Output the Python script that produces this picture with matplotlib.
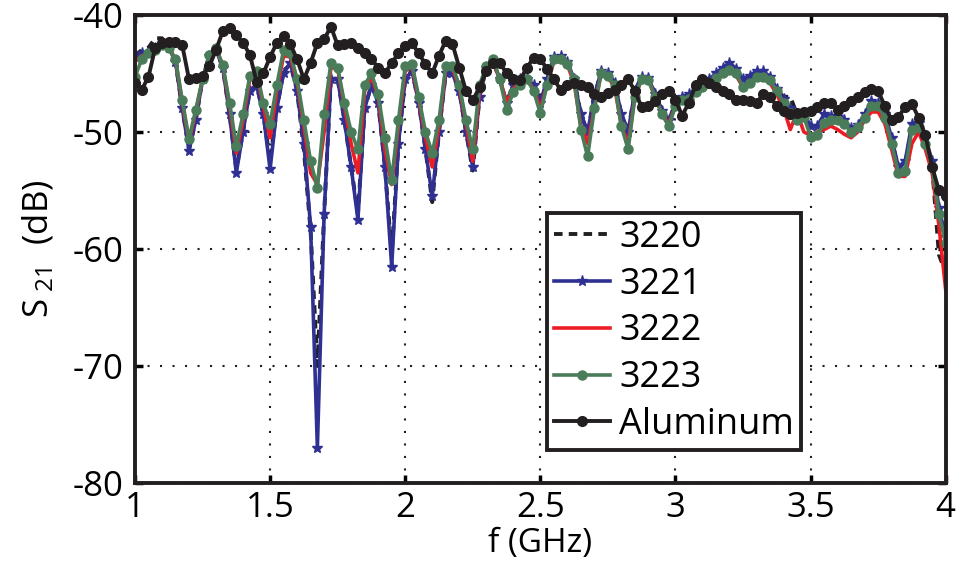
import numpy as np
import matplotlib
matplotlib.use('Agg')
import matplotlib.pyplot as plt

plt.rcParams['font.family'] = ['Open Sans', 'DejaVu Sans']
plt.rcParams['mathtext.fontset'] = 'custom'
plt.rcParams['mathtext.rm'] = 'Open Sans'
plt.rcParams['mathtext.it'] = 'Open Sans'
plt.rcParams['axes.unicode_minus'] = False

# frequency grid, 1 to 4 GHz (121 samples)
freq = np.linspace(1.0, 4.0, 121)

# S21 values (dB), one row = 0.25 GHz
s_3220 = [
    -43.5, -43.0, -42.8, -42.0, -42.0, -42.6, -44.0, -48.0, -51.5, -49.0,
    -45.5, -43.5, -43.0, -44.5, -48.5, -53.2, -50.0, -46.5, -46.0, -48.5,
    -52.5, -48.0, -44.8, -44.2, -46.5, -51.5, -58.5, -70.0, -57.0, -45.5,
    -45.5, -49.0, -53.0, -57.0, -48.0, -46.0, -47.5, -53.0, -60.5, -51.0,
    -45.5, -44.8, -47.5, -51.5, -56.0, -50.0, -45.0, -45.0, -46.5, -50.0,
    -53.3, -47.0, -44.5, -44.0, -45.5, -47.5, -46.0, -45.5, -45.5, -46.0,
    -47.5, -45.5, -43.8, -43.6, -44.0, -45.5, -48.5, -50.0, -47.0, -44.8,
    -45.0, -45.8, -48.5, -50.0, -46.5, -45.3, -45.4, -46.8, -48.2, -49.0,
    -47.6, -47.0, -46.8, -46.3, -46.0, -45.5, -45.0, -44.6, -44.3, -44.8,
    -45.6, -45.3, -45.0, -45.0, -45.4, -46.4, -47.0, -47.0, -48.5, -48.6,
    -49.6, -49.6, -48.6, -48.7, -48.8, -49.1, -49.8, -49.5, -48.6, -47.5,
    -47.6, -48.6, -50.7, -53.2, -52.8, -49.5, -49.4, -50.7, -53.0, -60.5,
    -62.0]

s_3221 = [
    -43.5, -43.3, -43.3, -42.8, -42.5, -42.8, -44.0, -48.0, -51.6, -49.0,
    -45.5, -43.5, -43.0, -44.5, -48.5, -53.5, -50.0, -46.5, -46.0, -48.5,
    -53.2, -48.0, -45.0, -44.1, -46.5, -51.0, -58.1, -77.0, -57.0, -45.5,
    -45.5, -49.0, -53.0, -57.5, -48.0, -46.0, -47.5, -53.0, -61.5, -51.0,
    -45.5, -44.8, -47.5, -51.5, -55.5, -50.0, -45.0, -45.0, -46.5, -50.0,
    -53.0, -47.0, -44.5, -44.0, -45.5, -47.5, -46.0, -45.5, -45.5, -46.0,
    -47.5, -45.5, -43.6, -43.5, -44.0, -45.5, -48.5, -50.0, -47.0, -44.8,
    -45.0, -45.8, -48.5, -50.0, -46.5, -45.3, -45.4, -46.8, -48.2, -49.0,
    -47.6, -47.0, -46.8, -46.3, -46.0, -45.5, -45.0, -44.5, -44.1, -44.6,
    -45.5, -45.2, -44.8, -44.8, -45.3, -46.3, -47.2, -48.0, -48.5, -48.4,
    -49.5, -49.5, -48.5, -48.6, -48.7, -49.0, -49.7, -49.4, -48.5, -47.4,
    -47.5, -48.5, -50.5, -53.0, -52.5, -49.3, -49.2, -50.5, -52.5, -56.5,
    -59.0]

s_3222 = [
    -44.0, -43.5, -43.3, -43.0, -42.6, -42.8, -43.8, -47.5, -50.8, -48.3,
    -45.5, -43.5, -42.9, -44.3, -47.8, -51.8, -49.0, -45.5, -45.0, -47.8,
    -50.5, -46.5, -43.5, -43.6, -45.8, -49.5, -53.5, -54.5, -50.0, -44.5,
    -44.6, -47.8, -51.0, -53.5, -46.5, -45.3, -47.0, -51.5, -54.5, -49.5,
    -44.8, -44.4, -47.2, -50.5, -53.0, -49.5, -44.6, -44.6, -46.2, -49.3,
    -52.5, -46.5, -44.5, -44.0, -45.5, -47.5, -46.3, -45.8, -45.6, -46.3,
    -48.0, -46.0, -44.0, -44.0, -44.3, -45.8, -49.5, -51.0, -48.0, -45.0,
    -45.3, -46.2, -49.5, -51.0, -47.0, -45.5, -45.6, -47.0, -48.5, -49.3,
    -47.8, -47.3, -47.2, -46.7, -46.3, -45.9, -45.5, -45.2, -44.9, -45.2,
    -46.2, -45.9, -45.5, -45.5, -45.8, -46.8, -48.0, -49.8, -48.3, -50.0,
    -50.3, -50.0, -49.8, -49.5, -49.8, -50.2, -50.5, -50.0, -49.0, -48.3,
    -48.3, -49.3, -51.5, -53.8, -53.8, -51.0, -50.0, -51.5, -53.5, -58.0,
    -63.5]

s_3223 = [
    -45.3, -43.8, -43.3, -43.0, -42.6, -42.8, -43.8, -47.3, -50.6, -48.1,
    -45.5, -43.4, -42.8, -44.3, -47.5, -51.2, -48.5, -45.2, -44.8, -47.5,
    -49.3, -46.0, -43.0, -43.3, -45.5, -49.0, -52.5, -54.8, -48.5, -44.1,
    -44.5, -47.5, -50.0, -51.5, -46.0, -45.0, -46.8, -50.5, -54.1, -49.0,
    -44.4, -44.2, -47.0, -50.0, -51.8, -49.0, -44.4, -44.4, -46.0, -49.0,
    -51.5, -46.0, -44.4, -43.8, -45.5, -48.1, -46.6, -46.0, -45.5, -46.5,
    -48.4, -46.0, -43.8, -43.8, -44.2, -45.5, -49.8, -52.1, -48.0, -45.0,
    -45.2, -46.0, -49.5, -51.5, -47.0, -45.5, -45.6, -47.0, -48.5, -49.5,
    -47.8, -47.3, -47.2, -46.6, -46.2, -45.8, -45.4, -45.0, -44.7, -45.0,
    -46.2, -45.8, -45.3, -45.3, -45.6, -46.5, -47.5, -48.4, -49.0, -48.7,
    -50.4, -50.3, -49.2, -49.0, -49.0, -49.3, -50.0, -49.6, -48.8, -47.8,
    -47.8, -48.8, -51.0, -53.5, -53.3, -49.8, -49.6, -51.0, -53.0, -57.0,
    -59.5]

s_aluminum = [
    -45.8, -46.4, -45.3, -42.8, -42.4, -42.3, -42.3, -42.6, -45.5, -45.4,
    -45.2, -44.4, -43.0, -41.4, -41.1, -41.7, -42.4, -43.4, -45.7, -45.0,
    -43.6, -42.4, -41.8, -42.5, -43.8, -45.5, -44.1, -42.4, -42.1, -41.0,
    -42.6, -42.5, -42.4, -42.8, -43.3, -43.8, -44.5, -45.0, -44.1, -43.3,
    -42.7, -42.4, -43.3, -44.2, -45.0, -43.5, -42.2, -42.5, -44.5, -46.5,
    -47.3, -46.2, -44.8, -44.1, -44.1, -45.0, -45.5, -45.6, -44.5, -43.7,
    -43.8, -44.6, -45.5, -46.4, -46.0, -45.8, -46.0, -46.2, -46.8, -47.0,
    -46.7, -46.4, -46.0, -45.5, -46.5, -47.9, -47.8, -47.4, -46.8, -46.5,
    -47.3, -48.6, -47.5, -46.0, -45.5, -45.8, -46.2, -46.5, -46.8, -47.3,
    -47.3, -47.4, -47.5, -46.8, -47.0, -47.8, -48.2, -48.5, -48.4, -48.3,
    -48.2, -47.9, -47.5, -47.5, -48.1, -47.8, -47.4, -47.0, -46.6, -46.3,
    -46.5, -47.8, -49.0, -48.7, -47.9, -47.6, -48.8, -50.3, -53.0, -55.0,
    -55.5]

fig = plt.figure(figsize=(9.64, 5.71), dpi=100)
ax = fig.add_axes([0.140, 0.154, 0.841, 0.820])

ax.plot(freq, s_3220, color='#231f20', linestyle='--', linewidth=2.8,
        dashes=(2.2, 1.6), label='3220')
ax.plot(freq, s_3221, color='#2e3192', linewidth=2.6, marker='*', markersize=8,
        label='3221')
ax.plot(freq, s_3222, color='#ed1c24', linewidth=2.6, label='3222')
ax.plot(freq, s_3223, color='#4a7c59', linewidth=2.6, marker='o', markersize=6.5,
        label='3223')
ax.plot(freq, s_aluminum, color='#231f20', linewidth=2.8, marker='o', markersize=7,
        label='Aluminum')

ax.set_xlim(1, 4)
ax.set_ylim(-80, -40)
ax.set_xticks([1, 1.5, 2, 2.5, 3, 3.5, 4])
ax.set_xticklabels(['1', '1.5', '2', '2.5', '3', '3.5', '4'])
ax.set_yticks([-80, -70, -60, -50, -40])
ax.grid(True, linestyle=(0, (1, 5)), color='#231f20', linewidth=1.5)
ax.tick_params(direction='in', length=6, width=2.5, labelsize=25, pad=8,
               top=True, right=True)
ax.tick_params(axis='x', pad=6)
for sp in ax.spines.values():
    sp.set_linewidth(2.8)
    sp.set_color('#231f20')

ax.set_xlabel('f (GHz)', fontsize=24, labelpad=1)
ax.set_ylabel(r'S$_{\ 21}$  (dB)', fontsize=25, labelpad=12)

leg = ax.legend(loc='lower left', bbox_to_anchor=(0.508, 0.07), fontsize=26,
                frameon=True, fancybox=False, framealpha=1,
                handlelength=1.55, handletextpad=0.25, borderpad=0.2,
                labelspacing=0.3, borderaxespad=0)
leg.get_frame().set_edgecolor('#231f20')
leg.get_frame().set_linewidth(2.8)

fig.savefig('out.png', dpi=100)
